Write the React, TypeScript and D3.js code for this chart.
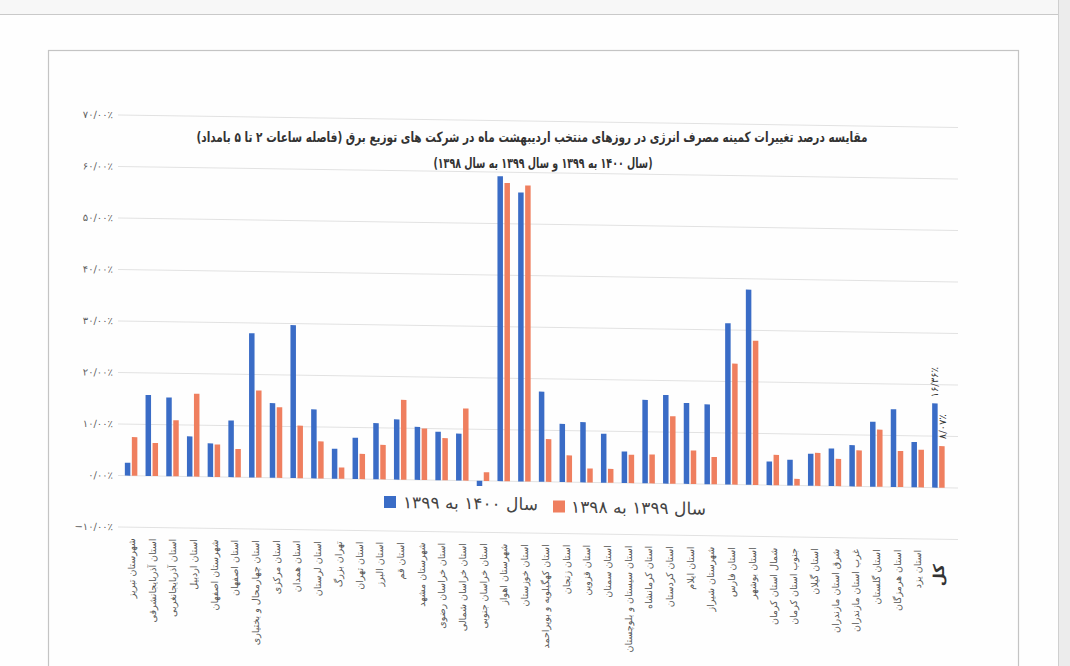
import React from "react";
import * as d3 from "d3";

const categories: string[] = [
  "شهرستان تبریز",
  "استان آذربایجانشرقی",
  "استان آذربایجانغربی",
  "استان اردبیل",
  "شهرستان اصفهان",
  "استان اصفهان",
  "استان چهارمحال و بختیاری",
  "استان مرکزی",
  "استان همدان",
  "استان لرستان",
  "تهران بزرگ",
  "استان تهران",
  "استان البرز",
  "استان قم",
  "شهرستان مشهد",
  "استان خراسان رضوی",
  "استان خراسان شمالی",
  "استان خراسان جنوبی",
  "شهرستان اهواز",
  "استان خوزستان",
  "استان کهگیلویه و بویراحمد",
  "استان زنجان",
  "استان قزوین",
  "استان سمنان",
  "استان سیستان و بلوچستان",
  "استان کرمانشاه",
  "استان کردستان",
  "استان ایلام",
  "شهرستان شیراز",
  "استان فارس",
  "استان بوشهر",
  "شمال استان کرمان",
  "جنوب استان کرمان",
  "استان گیلان",
  "شرق استان مازندران",
  "غرب استان مازندران",
  "استان گلستان",
  "استان هرمزگان",
  "استان یزد",
  "کل",
];

// سال ۱۴۰۰ به ۱۳۹۹ (blue)
const series1400vs1399: number[] = [
  2.5, 15.7, 15.3, 7.8, 6.5, 11.0, 28.0, 14.5, 29.7, 13.4, 5.8, 8.0, 10.9, 11.7,
  10.3, 9.4, 9.1, -1.0, 59.2, 56.1, 17.5, 11.3, 11.7, 9.5, 6.1, 16.2, 17.2, 15.7,
  15.5, 31.3, 37.9, 4.6, 5.0, 6.2, 7.3, 8.0, 12.6, 15.1, 8.8, 16.36,
];

// سال ۱۳۹۹ به ۱۳۹۸ (orange)
const series1399vs1398: number[] = [
  7.5, 6.4, 10.9, 16.1, 6.3, 5.5, 16.9, 13.7, 10.2, 7.2, 2.2, 4.9, 6.7, 15.5,
  10.0, 8.2, 14.0, 1.7, 57.9, 57.5, 8.3, 5.2, 2.7, 2.7, 5.5, 5.6, 13.1, 6.5,
  5.3, 23.5, 28.0, 5.9, 1.3, 6.4, 5.3, 7.0, 11.1, 7.0, 7.3, 8.07,
];

const seriesNames: string[] = ["سال ۱۴۰۰ به ۱۳۹۹", "سال ۱۳۹۹ به ۱۳۹۸"];
const yTicks: number[] = [-10, 0, 10, 20, 30, 40, 50, 60, 70];
const titleLines: string[] = [
  "مقایسه درصد تغییرات کمینه مصرف انرژی در  روزهای منتخب اردیبهشت ماه در شرکت های توزیع برق (فاصله ساعات ۲ تا ۵ بامداد)",
  "(سال ۱۴۰۰ به ۱۳۹۹ و سال ۱۳۹۹ به سال ۱۳۹۸)",
];

const BLUE = "#3a6cc6";
const ORANGE = "#ef7f5f";
const FA = "'DejaVu Sans', 'Noto Sans', sans-serif";

const toPersian = (s: string) =>
  s
    .replace(/[0-9]/g, (d) => "۰۱۲۳۴۵۶۷۸۹"[+d])
    .replace(/\./g, "/")
    .replace(/%/g, "٪");

const fmtPct = (v: number) => toPersian(d3.format(".2f")(v)) + "٪";

export default function App() {
  const W = 1070;
  const H = 666;
  const x = d3.scaleBand<string>().domain(categories).range([121, 949]).padding(0);
  const y = d3.scaleLinear().domain([-10, 70]).range([527, 115]);
  const bw = 5.5;
  const skew = "translate(120,0) skewY(0.85) translate(-120,0)";
  const last = categories.length - 1;
  const cx = (c: string) => (x(c) as number) + x.bandwidth() / 2;

  return (
    <svg
      width={W}
      height={H}
      style={{ position: "absolute", left: 0, top: 0, background: "#fefefe" }}
    >
      <rect x={0} y={0} width={W} height={H} fill="#fefefe" />
      <rect x={0} y={0} width={W} height={14} fill="#f7f7f7" />
      <line x1={0} y1={14.5} x2={1058} y2={14.5} stroke="#c9c9c9" />
      <rect x={1058} y={0} width={12} height={H} fill="#ececec" />
      <line x1={1058.5} y1={0} x2={1058.5} y2={H} stroke="#cfcfcf" />
      {/* chart frame */}
      <rect x={48.5} y={50.5} width={970} height={640} fill="none" stroke="#c4c4c4" strokeWidth={1.2} />

      {/* title */}
      <g fontFamily={FA} fontWeight="bold" fill="#333" textAnchor="middle">
        <text x={532} y={142} fontSize={14} textLength={671} lengthAdjust="spacingAndGlyphs">
          {titleLines[0]}
        </text>
        <text x={543} y={168} fontSize={14} textLength={219} lengthAdjust="spacingAndGlyphs">
          {titleLines[1]}
        </text>
      </g>

      <g transform={skew}>
        {/* gridlines + y labels */}
        {yTicks.map((t) => (
          <g key={t}>
            <line x1={118} x2={958} y1={y(t)} y2={y(t)} stroke="#e2e2e2" strokeWidth={1} />
            <text
              x={113}
              y={y(t)}
              dy="0.35em"
              textAnchor="end"
              fontFamily={FA}
              fontSize={10}
              fill="#5e5e5e"
            >
              {fmtPct(t)}
            </text>
          </g>
        ))}

        {/* bars */}
        {categories.map((c, i) => {
          const c0 = cx(c);
          const v1 = series1400vs1399[i];
          const v2 = series1399vs1398[i];
          return (
            <g key={c}>
              <rect
                x={c0 - bw - 1}
                y={Math.min(y(v1), y(0))}
                width={bw}
                height={Math.abs(y(v1) - y(0))}
                fill={BLUE}
              />
              <rect
                x={c0 + 0.5}
                y={Math.min(y(v2), y(0))}
                width={bw}
                height={Math.abs(y(v2) - y(0))}
                fill={ORANGE}
              />
            </g>
          );
        })}

        {/* data labels for total */}
        <text
          transform={`translate(${cx(categories[last]) - 1},${y(series1400vs1399[last]) - 6}) rotate(-90)`}
          fontFamily={FA}
          fontSize={10}
          fill="#333"
          textAnchor="start"
        >
          {fmtPct(series1400vs1399[last])}
        </text>
        <text
          transform={`translate(${cx(categories[last]) + 7},${y(series1399vs1398[last]) - 7}) rotate(-90)`}
          fontFamily={FA}
          fontSize={10}
          fill="#333"
          textAnchor="start"
        >
          {fmtPct(series1399vs1398[last])}
        </text>

        {/* x labels */}
        {categories.map((c, i) => {
          const isTotal = i === last;
          return (
            <text
              key={c}
              transform={`translate(${cx(c) + (isTotal ? 5 : 3.5)},${isTotal ? 552 : 538}) rotate(-90)`}
              textAnchor="end"
              fontFamily={FA}
              fontSize={isTotal ? 15 : 9.5}
              fontWeight={isTotal ? "bold" : "normal"}
              fill={isTotal ? "#333" : "#555"}
            >
              {c}
            </text>
          );
        })}

        {/* legend */}
        <rect x={384} y={492} width={12} height={12} fill={BLUE} />
        <text x={403} y={504} fontFamily={FA} fontSize={17} fill="#444" textAnchor="start">
          {seriesNames[0]}
        </text>
        <rect x={553} y={494} width={12} height={12} fill={ORANGE} />
        <text x={571} y={506} fontFamily={FA} fontSize={17} fill="#444" textAnchor="start">
          {seriesNames[1]}
        </text>
      </g>
    </svg>
  );
}
